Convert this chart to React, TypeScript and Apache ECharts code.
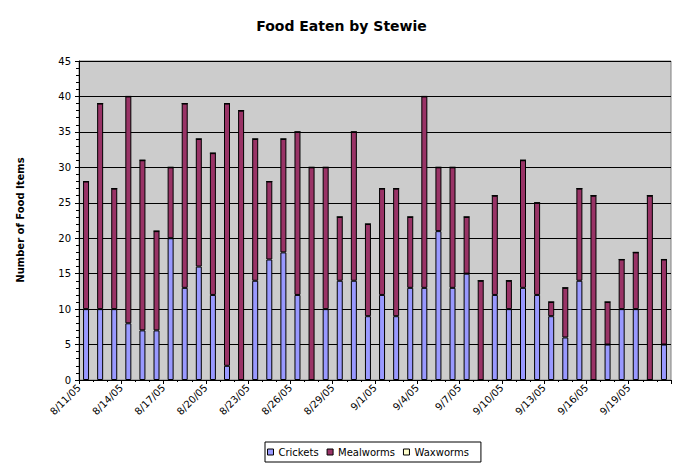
import React, { useEffect, useRef } from "react";
import * as echarts from "echarts";

const dates = [
  "8/11/05", "8/12/05", "8/13/05", "8/14/05", "8/15/05", "8/16/05", "8/17/05",
  "8/18/05", "8/19/05", "8/20/05", "8/21/05", "8/22/05", "8/23/05", "8/24/05",
  "8/25/05", "8/26/05", "8/27/05", "8/28/05", "8/29/05", "8/30/05", "8/31/05",
  "9/1/05", "9/2/05", "9/3/05", "9/4/05", "9/5/05", "9/6/05", "9/7/05",
  "9/8/05", "9/9/05", "9/10/05", "9/11/05", "9/12/05", "9/13/05", "9/14/05",
  "9/15/05", "9/16/05", "9/17/05", "9/18/05", "9/19/05", "9/20/05", "9/21/05",
];

const crickets = [
  10, 10, 10, 8, 7, 7, 20, 13, 16, 12, 2, 0, 14, 17,
  18, 12, 0, 10, 14, 14, 9, 12, 9, 13, 13, 21, 13, 15,
  0, 12, 10, 13, 12, 9, 6, 14, 0, 5, 10, 10, 0, 5,
];

const mealworms = [
  18, 29, 17, 32, 24, 14, 10, 26, 18, 20, 37, 38, 20, 11,
  16, 23, 30, 20, 9, 21, 13, 15, 18, 10, 27, 9, 17, 8,
  14, 14, 4, 18, 13, 2, 7, 13, 26, 6, 7, 8, 26, 12,
];

const waxworms = [
  0, 0, 0, 0, 0, 0, 0, 0, 0, 0, 0, 0, 0, 0,
  0, 0, 0, 0, 0, 0, 0, 0, 0, 0, 0, 0, 0, 0,
  0, 0, 0, 0, 0, 0, 0, 0, 0, 0, 0, 0, 0, 0,
];

const FONT = "DejaVu Sans";

export default function App() {
  const ref = useRef<HTMLDivElement>(null);
  useEffect(() => {
    if (!ref.current) return;
    const chart = echarts.init(ref.current, null, { renderer: "svg" });
    const barStyle = (color: string) => ({
      color,
      borderColor: "#000000",
      borderWidth: 1,
    });
    chart.setOption({
      animation: false,
      backgroundColor: "#ffffff",
      title: {
        text: "Food Eaten by Stewie",
        left: "center",
        top: 14,
        textStyle: { fontFamily: FONT, fontSize: 14, fontWeight: "bold", color: "#000" },
      },
      legend: {
        left: 265,
        top: 442,
        orient: "horizontal",
        itemWidth: 6,
        itemHeight: 6,
        itemGap: 8,
        icon: "rect",
        padding: [5, 12, 5, 2],
        borderColor: "#000",
        borderWidth: 1,
        backgroundColor: "#fff",
        textStyle: { fontFamily: FONT, fontSize: 10, color: "#000" },
        itemStyle: { borderColor: "#000", borderWidth: 1 },
        data: ["Crickets", "Mealworms", "Waxworms"],
      },
      grid: {
        left: 79,
        right: 12,
        top: 61,
        bottom: 87,
        show: true,
        backgroundColor: "#CCCCCC",
        borderColor: "#808080",
        borderWidth: 1,
        containLabel: false,
      },
      xAxis: [
        {
          type: "category",
          data: dates,
          boundaryGap: true,
          show: false,
          position: "bottom",
        },
        {
          type: "value",
          min: 0,
          max: dates.length,
          interval: 3,
          position: "bottom",
          axisLine: { show: true, lineStyle: { color: "#000", width: 1 } },
          axisTick: { show: true, length: 4, lineStyle: { color: "#000" } },
          minorTick: { show: true, splitNumber: 3, length: 2, lineStyle: { color: "#000" } },
          splitLine: { show: false },
          axisLabel: {
            rotate: 45,
            margin: 6,
            fontFamily: FONT,
            fontSize: 10,
            color: "#000",
            showMaxLabel: false,
            formatter: (v: number) => dates[v] ?? "",
          },
        },
      ],
      yAxis: {
        type: "value",
        min: 0,
        max: 45,
        interval: 5,
        axisLine: { show: true, lineStyle: { color: "#000", width: 1 } },
        axisTick: { show: true, length: 4, lineStyle: { color: "#000" } },
        minorTick: { show: true, splitNumber: 5, length: 3, lineStyle: { color: "#000" } },
        splitLine: { show: true, lineStyle: { color: "#000", width: 1 } },
        axisLabel: { fontFamily: FONT, fontSize: 10, color: "#000", margin: 8 },
      },
      graphic: [
        {
          type: "text",
          x: 20,
          y: 220,
          rotation: Math.PI / 2,
          style: {
            text: "Number of Food Items",
            fontFamily: FONT,
            fontSize: 10,
            fontWeight: "bold",
            fill: "#000",
            align: "center",
            verticalAlign: "middle",
          },
        },
      ],
      series: [
        {
          name: "Crickets",
          type: "bar",
          stack: "food",
          xAxisIndex: 0,
          barWidth: 6,
          itemStyle: barStyle("#9999FF"),
          data: crickets,
        },
        {
          name: "Mealworms",
          type: "bar",
          stack: "food",
          xAxisIndex: 0,
          barWidth: 6,
          itemStyle: barStyle("#993366"),
          data: mealworms,
        },
        {
          name: "Waxworms",
          type: "bar",
          stack: "food",
          xAxisIndex: 0,
          barWidth: 6,
          itemStyle: barStyle("#FFFFCC"),
          data: waxworms,
        },
      ],
    });
    return () => chart.dispose();
  }, []);
  return <div ref={ref} style={{ width: 683, height: 467, position: "absolute", left: 0, top: 0 }} />;
}
